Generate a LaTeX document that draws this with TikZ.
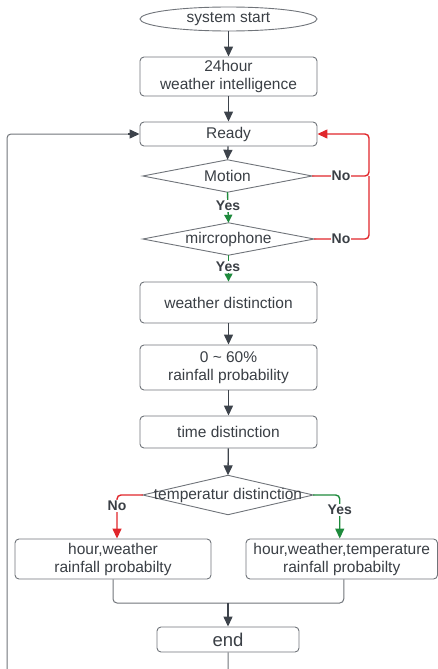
\documentclass[tikz,border=0pt]{standalone}
\usepackage{fontspec}
\setmainfont{Liberation Sans}
\usetikzlibrary{arrows.meta,shapes.geometric}
\definecolor{txt}{HTML}{3A3F45}
\definecolor{bord}{HTML}{70747A}
\definecolor{arr}{HTML}{3D434B}
\definecolor{redl}{HTML}{E0262B}
\definecolor{grn}{HTML}{1E8A3C}
\begin{document}
\begin{tikzpicture}[x=1pt,y=-1pt,
  box/.style={draw=bord, line width=0.9pt, rounded corners=4pt, fill=white, inner sep=0pt, align=center, text=txt, font=\fontsize{15.5}{18}\selectfont},
  oval/.style={ellipse, draw=bord, line width=0.9pt, fill=white, inner sep=0pt, text=txt, font=\fontsize{15.5}{18}\selectfont},
  dia/.style={inner sep=0pt, text=txt, font=\fontsize{15.5}{18}\selectfont},
  diaedge/.style={draw=bord, line width=0.9pt, fill=white},
  con/.style={draw=arr, line width=1.3pt, -{Triangle[length=10pt,width=9pt]}},
  red con/.style={draw=redl, line width=1.4pt, rounded corners=4pt},
  green con/.style={draw=grn, line width=1.4pt, rounded corners=4pt},
  plainline/.style={draw=bord, line width=1pt, rounded corners=4pt},
  lab/.style={font=\fontsize{14}{16}\selectfont\bfseries, text=txt, fill=white, inner sep=1pt},
]
\useasboundingbox (0,0) rectangle (438,669);

% nodes
\node[oval, minimum width=177pt, minimum height=24pt] (start) at (228.5,19) {system start};
\node[box, minimum width=177pt, minimum height=39pt] (intel) at (228.5,76.5) {24hour\\weather intelligence};
\node[box, minimum width=177pt, minimum height=24pt] (ready) at (228.5,134) {Ready};
\node[dia, minimum width=169pt, minimum height=32pt] (motion) at (227.5,176) {};
\node[dia, minimum width=171pt, minimum height=32pt] (mic) at (228.5,239) {};
\node[box, minimum width=177pt, minimum height=41pt] (wd) at (228.5,302.5) {weather distinction};
\node[box, minimum width=177pt, minimum height=45pt] (rain) at (228.5,367.5) {0 \textasciitilde{} 60\%\\rainfall probability};
\node[box, minimum width=177pt, minimum height=32pt] (td) at (228.5,432) {time distinction};
\node[dia, minimum width=170pt, minimum height=39pt] (temp) at (228,495) {};
\node[box, minimum width=196pt, minimum height=40pt] (lbox) at (113,559) {hour,weather\\rainfall probabilty};
\node[box, minimum width=191.5pt, minimum height=40pt] (rbox) at (341.75,559) {hour,weather,temperature\\rainfall probabilty};
\node[box, minimum width=142pt, minimum height=25pt, font=\fontsize{18.5}{20}\selectfont] (end) at (228,639.5) {end};
\coordinate (m) at (228,603);

% diamonds
\foreach \d/\t in {motion/Motion, mic/mircrophone, temp/temperatur distinction}{
  \path[diaedge] (\d.west) -- (\d.north) -- (\d.east) -- (\d.south) -- cycle;
  \node[dia] at (\d.center) {\t};
}

% main flow
\draw[con] (start) -- (intel);
\draw[con] (intel) -- (ready);
\draw[con] (ready) -- (motion.north);
\draw[con] (wd) -- (rain);
\draw[con] (rain) -- (td);
\draw[con] (td) -- (temp.north);

% yes branches
\draw[green con, -{Triangle[length=8pt,width=8pt]}] (motion.south) -- (mic.north);
\node[lab] at (228,206) {Yes};
\draw[green con, -{Triangle[length=8pt,width=8pt]}] (mic.south) -- (wd.north);
\node[lab] at (228,267) {Yes};

% no branches
\draw[red con, -{Triangle[length=10pt,width=9pt]}] (motion.east) -- (369,176) |- (ready.east);
\draw[red con] (mic.east) -| (369,176);
\node[lab] at (341,176) {No};
\node[lab] at (341,239) {No};

% temperature split
\draw[red con, -{Triangle[length=10pt,width=9pt]}] (temp.west) -| ([xshift=4pt]lbox.north);
\node[lab] at (117,506) {No};
\draw[green con, -{Triangle[length=10pt,width=9pt]}] (temp.east) -| ([xshift=-2pt]rbox.north);
\node[lab] at (339.75,510) {Yes};

% merge
\draw[plainline] (lbox.south) |- (m);
\draw[plainline] ([xshift=2pt]rbox.south) |- (m);
\draw[con] (m) -- (end.north);

% loop back
\draw[plainline] (end.south) -- (228,690) -- (7,690) -- (7,134) -- (130,134);
\draw[con] (128,134) -- (ready.west);
\end{tikzpicture}
\end{document}
